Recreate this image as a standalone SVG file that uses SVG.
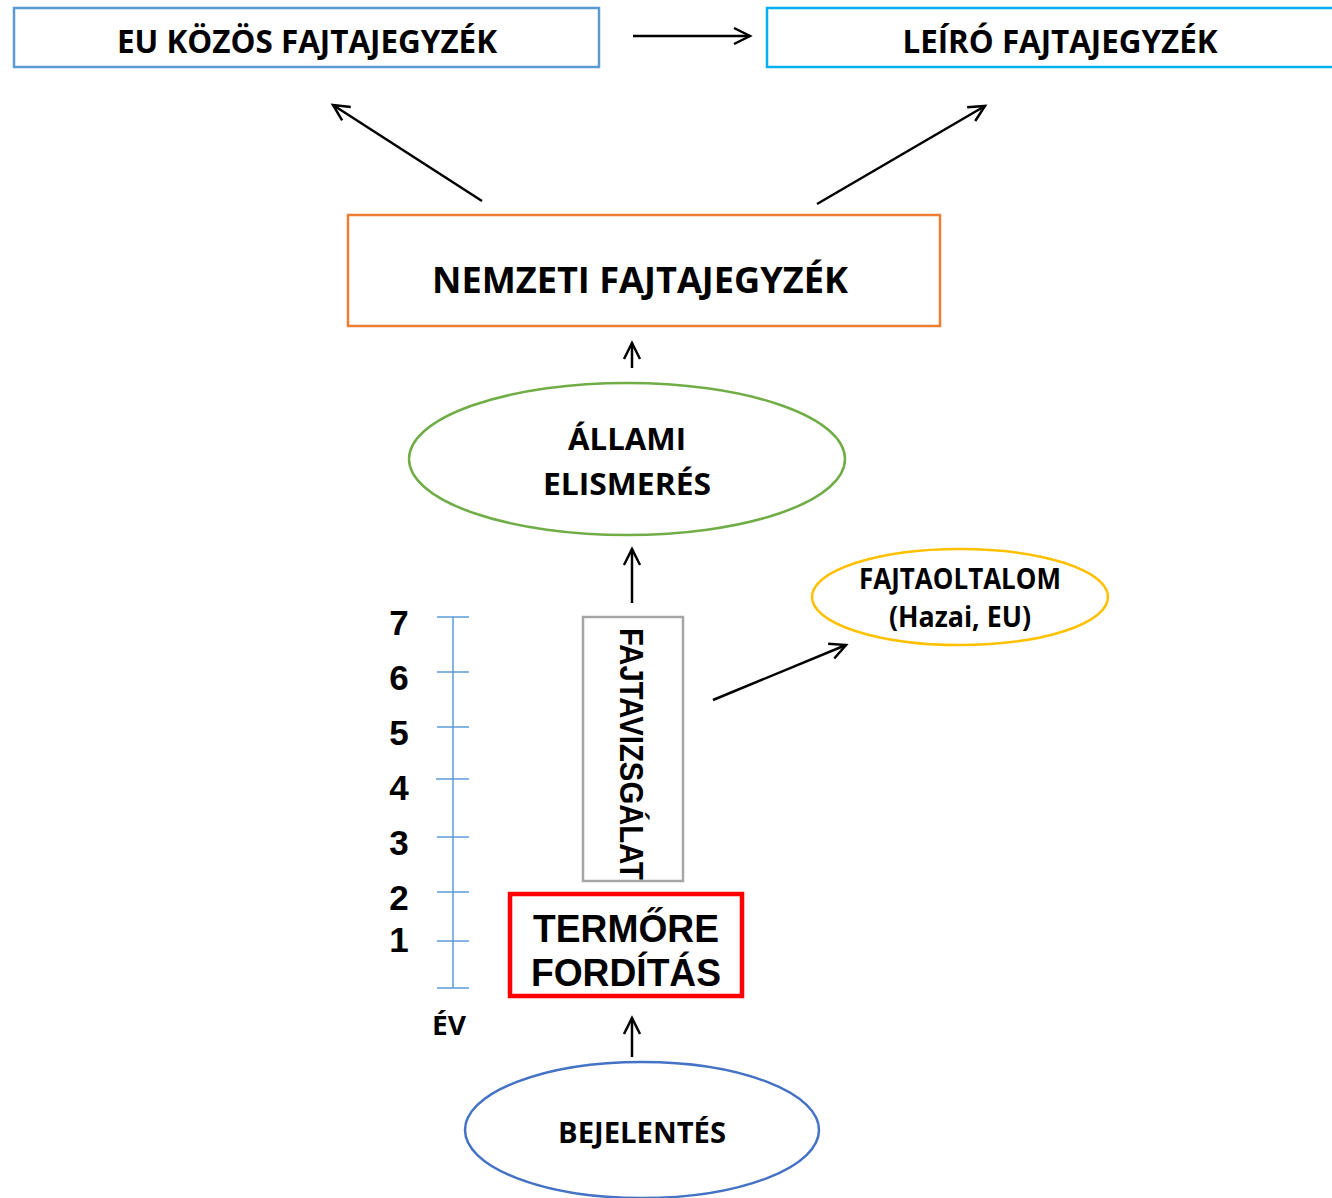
<svg xmlns="http://www.w3.org/2000/svg" width="1332" height="1198" viewBox="0 0 1332 1198">
<defs>
<marker id="ah" markerWidth="24" markerHeight="20" refX="20" refY="10" orient="auto" markerUnits="userSpaceOnUse">
<path d="M4,2 L20,10 L4,18" fill="none" stroke="#000" stroke-width="2.5"/>
</marker>
<style>
.c{font-family:"Open Sans","Noto Sans",sans-serif;font-weight:bold;fill:#000;text-anchor:middle}
.a{font-family:"Liberation Sans",Arial,sans-serif;font-weight:bold;fill:#000;text-anchor:middle}
.ln{stroke:#000;stroke-width:2.5;fill:none;marker-end:url(#ah)}
.tk{stroke:#5b9bd5;stroke-width:1.5}
</style>
</defs>
<rect width="1332" height="1198" fill="#fff"/>
<g id="eu"><rect x="14" y="8" width="585" height="59" fill="#fff" stroke="#5b9bd5" stroke-width="2.5"/>
<text class="c" x="307" y="53" font-size="32" textLength="380" lengthAdjust="spacingAndGlyphs">EU KÖZÖS FAJTAJEGYZÉK</text></g>
<g id="leiro"><rect x="767" y="8" width="570" height="59" fill="#fff" stroke="#00b0f0" stroke-width="2.5"/>
<text class="c" x="1060" y="53" font-size="32" textLength="315" lengthAdjust="spacingAndGlyphs">LEÍRÓ FAJTAJEGYZÉK</text></g>
<g id="nemzeti"><rect x="348" y="215" width="592" height="111" fill="#fff" stroke="#ed7d31" stroke-width="2.5"/>
<text class="c" x="640" y="293" font-size="35" textLength="416" lengthAdjust="spacingAndGlyphs">NEMZETI FAJTAJEGYZÉK</text></g>
<g id="allami"><ellipse cx="627" cy="459" rx="218" ry="76" fill="#fff" stroke="#70ad47" stroke-width="2.5"/>
<text class="c" x="627" y="450" font-size="31" textLength="118" lengthAdjust="spacingAndGlyphs">ÁLLAMI</text>
<text class="c" x="627" y="495" font-size="31" textLength="168" lengthAdjust="spacingAndGlyphs">ELISMERÉS</text></g>
<g id="oltalom"><ellipse cx="960" cy="597" rx="148" ry="48" fill="#fff" stroke="#ffc000" stroke-width="2.5"/>
<text class="c" x="960" y="589" font-size="28" textLength="202" lengthAdjust="spacingAndGlyphs">FAJTAOLTALOM</text>
<text class="c" x="960" y="627" font-size="28" textLength="142" lengthAdjust="spacingAndGlyphs">(Hazai, EU)</text></g>
<g id="vizsgalat"><rect x="583" y="617" width="100" height="264" fill="#fff" stroke="#a6a6a6" stroke-width="2.5"/>
<text class="a" transform="translate(620,754) rotate(90)" font-size="33" textLength="252" lengthAdjust="spacingAndGlyphs">FAJTAVIZSGÁLAT</text></g>
<g id="termore"><rect x="510" y="894" width="232" height="102" fill="#fff" stroke="#ff0000" stroke-width="4.5"/>
<text class="a" x="626" y="942" font-size="38" textLength="186" lengthAdjust="spacingAndGlyphs">TERMŐRE</text>
<text class="a" x="626" y="986" font-size="38" textLength="190" lengthAdjust="spacingAndGlyphs">FORDÍTÁS</text></g>
<g id="bejelentes"><ellipse cx="642" cy="1130" rx="177" ry="68" fill="#fff" stroke="#4472c4" stroke-width="2.5"/>
<text class="c" x="642" y="1143" font-size="29" textLength="168" lengthAdjust="spacingAndGlyphs">BEJELENTÉS</text></g>
<g id="scale">
<line class="tk" x1="453" y1="617" x2="453" y2="988"/>
<line class="tk" x1="437" y1="617" x2="469" y2="617"/>
<line class="tk" x1="437" y1="672" x2="469" y2="672"/>
<line class="tk" x1="437" y1="727" x2="469" y2="727"/>
<line class="tk" x1="436" y1="779" x2="469" y2="779"/>
<line class="tk" x1="437" y1="837" x2="469" y2="837"/>
<line class="tk" x1="437" y1="892" x2="469" y2="892"/>
<line class="tk" x1="437" y1="941" x2="469" y2="941"/>
<line class="tk" x1="437" y1="988" x2="469" y2="988"/>
<text class="a" x="399" y="635" font-size="35">7</text>
<text class="a" x="399" y="690" font-size="35">6</text>
<text class="a" x="399" y="745" font-size="35">5</text>
<text class="a" x="399" y="800" font-size="35">4</text>
<text class="a" x="399" y="855" font-size="35">3</text>
<text class="a" x="399" y="910" font-size="35">2</text>
<text class="a" x="399" y="952" font-size="35">1</text>
<text class="c" x="449" y="1035" font-size="26" textLength="34" lengthAdjust="spacingAndGlyphs">ÉV</text>
</g>
<g id="connectors">
<line class="ln" x1="633" y1="36" x2="750" y2="36"/>
<line class="ln" x1="482" y1="201" x2="333" y2="105"/>
<line class="ln" x1="817" y1="204" x2="985" y2="106"/>
<line class="ln" x1="632" y1="368" x2="632" y2="343"/>
<line class="ln" x1="632" y1="603" x2="632" y2="549"/>
<line class="ln" x1="713" y1="700" x2="846" y2="645"/>
<line class="ln" x1="632" y1="1057" x2="632" y2="1018"/>
</g>
</svg>
